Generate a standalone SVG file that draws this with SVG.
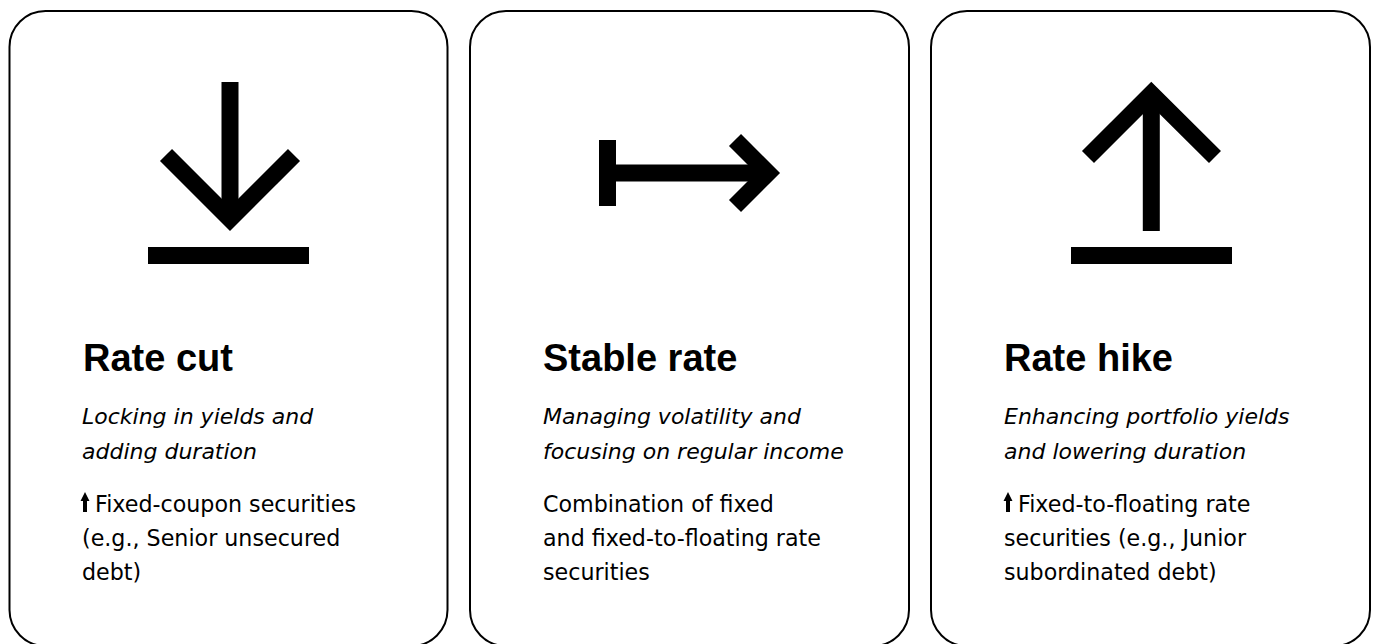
<svg xmlns="http://www.w3.org/2000/svg" width="1378" height="644" viewBox="0 0 1378 644">
<style>
.card{fill:#fff;stroke:#000;stroke-width:2}
.ico{fill:none;stroke:#000;stroke-width:17;stroke-linecap:butt;stroke-linejoin:miter;stroke-miterlimit:10}
.bar{fill:#000}
.title{font-family:"Liberation Sans",Arial,sans-serif;font-weight:bold;font-size:38px;fill:#000}
.sub{font-family:"DejaVu Sans",sans-serif;font-style:italic;font-size:22px;fill:#000}
.body{font-family:"DejaVu Sans",sans-serif;font-size:22.2px;fill:#000}
.up{fill:#000}
</style>
<rect width="1378" height="644" fill="#fff"/>
<g id="connectors"></g>
<g id="card-rate-cut">
<rect class="card" x="9.5" y="11" width="438" height="635" rx="36" ry="36"/>
<line class="ico" x1="230" y1="82" x2="230" y2="215"/>
<polyline class="ico" points="166,155 230,219 294,155"/>
<rect class="bar" x="148" y="247" width="161" height="17"/>
<text class="title" x="83" y="371">Rate cut</text>
<text class="sub" x="82" y="424">Locking in yields and</text>
<text class="sub" x="82" y="459">adding duration</text>
<polygon class="up" points="85,492 89.5,501 87,501 87,512 83,512 83,501 80.5,501"/>
<text class="body" x="95" y="512">Fixed-coupon securities</text>
<text class="body" x="82" y="546">(e.g., Senior unsecured</text>
<text class="body" x="82" y="580">debt)</text>
</g>
<g id="card-stable-rate">
<rect class="card" x="470" y="11" width="439" height="635" rx="36" ry="36"/>
<rect class="bar" x="599" y="140" width="17" height="66"/>
<line class="ico" x1="616" y1="173" x2="766" y2="173"/>
<polyline class="ico" points="735,140 768,173 735,206"/>
<text class="title" x="543" y="371">Stable rate</text>
<text class="sub" x="543" y="424">Managing volatility and</text>
<text class="sub" x="543" y="459">focusing on regular income</text>
<text class="body" x="543" y="512">Combination of fixed</text>
<text class="body" x="543" y="546">and fixed-to-floating rate</text>
<text class="body" x="543" y="580">securities</text>
</g>
<g id="card-rate-hike">
<rect class="card" x="931" y="11" width="439" height="635" rx="36" ry="36"/>
<line class="ico" x1="1151.3" y1="97" x2="1151.3" y2="231"/>
<polyline class="ico" points="1088,157 1151.3,93.7 1215,157"/>
<rect class="bar" x="1071" y="247" width="161" height="17"/>
<text class="title" x="1004" y="371">Rate hike</text>
<text class="sub" x="1004" y="424">Enhancing portfolio yields</text>
<text class="sub" x="1004" y="459">and lowering duration</text>
<polygon class="up" points="1008,492 1012.5,501 1010,501 1010,512 1006,512 1006,501 1003.5,501"/>
<text class="body" x="1018" y="512">Fixed-to-floating rate</text>
<text class="body" x="1004" y="546">securities (e.g., Junior</text>
<text class="body" x="1004" y="580">subordinated debt)</text>
</g>
</svg>
